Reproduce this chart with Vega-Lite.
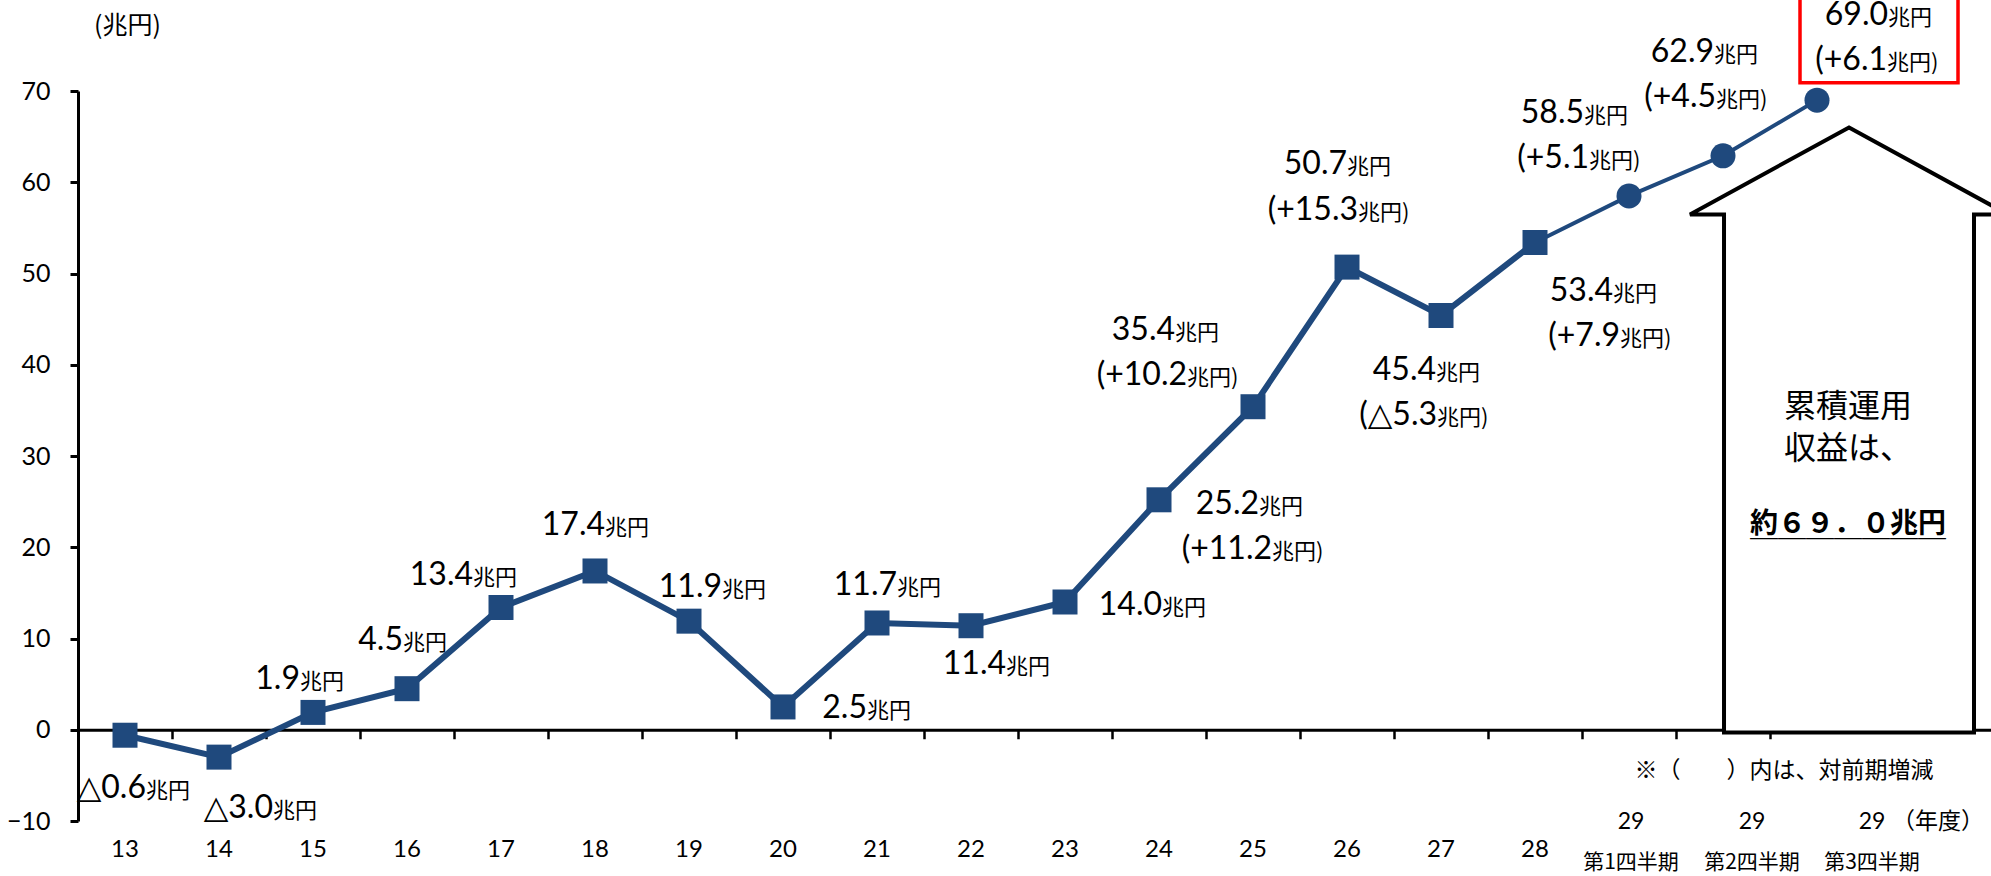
{
  "$schema": "https://vega.github.io/schema/vega-lite/v6.json",
  "width": 1913,
  "height": 730,
  "autosize": "none",
  "padding": {"left": 78, "top": 91, "right": 0, "bottom": 55},
  "background": "white",
  "config": {
    "view": {"stroke": null},
    "axis": {"grid": false, "labelColor": "#000", "titleColor": "#000", "domainColor": "#000", "tickColor": "#000", "labelFont": "Lato", "titleFont": "Noto Sans CJK JP"}
  },
  "data": {"values": [
    {"cat": "13", "v": -0.6, "n1": "△0.6"},
    {"cat": "14", "v": -3.0, "n1": "△3.0"},
    {"cat": "15", "v": 1.9, "n1": "1.9"},
    {"cat": "16", "v": 4.5, "n1": "4.5"},
    {"cat": "17", "v": 13.4, "n1": "13.4"},
    {"cat": "18", "v": 17.4, "n1": "17.4"},
    {"cat": "19", "v": 11.9, "n1": "11.9"},
    {"cat": "20", "v": 2.5, "n1": "2.5"},
    {"cat": "21", "v": 11.7, "n1": "11.7"},
    {"cat": "22", "v": 11.4, "n1": "11.4"},
    {"cat": "23", "v": 14.0, "n1": "14.0"},
    {"cat": "24", "v": 25.2, "n1": "25.2", "n2": "(+11.2"},
    {"cat": "25", "v": 35.4, "n1": "35.4", "n2": "(+10.2"},
    {"cat": "26", "v": 50.7, "n1": "50.7", "n2": "(+15.3"},
    {"cat": "27", "v": 45.4, "n1": "45.4", "n2": "(△5.3"},
    {"cat": "28", "v": 53.4, "n1": "53.4", "n2": "(+7.9"},
    {"cat": "29Q1", "v": 58.5, "n1": "58.5", "n2": "(+5.1", "q": "第1四半期"},
    {"cat": "29Q2", "v": 62.9, "n1": "62.9", "n2": "(+4.5", "q": "第2四半期"},
    {"cat": "29Q3", "v": 69.0, "n1": "69.0", "n2": "(+6.1", "q": "第3四半期"}
  ]},
  "encoding": {
    "x": {
      "field": "cat", "type": "nominal",
      "scale": {"type": "band", "domain": ["13","14","15","16","17","18","19","20","21","22","23","24","25","26","27","28","29Q1","29Q2","29Q3"], "paddingInner": 0, "paddingOuter": 0.6755, "align": 0},
      "axis": {"title": null, "offset": -91.25, "domain": true, "domainWidth": 3, "bandPosition": 0, "tickSize": 9, "tickWidth": 2.5, "labelExpr": "(datum.label == '29Q1' || datum.label == '29Q2' || datum.label == '29Q3') ? '' : datum.label", "labelFontSize": 24, "labelPadding": 111, "labelBaseline": "middle", "labelAngle": 0}
    },
    "y": {
      "field": "v", "type": "quantitative",
      "scale": {"domain": [-10, 70], "nice": false, "zero": false},
      "axis": {"title": "(兆円)", "tickCount": 8, "domainWidth": 3, "tickWidth": 3, "tickSize": 8, "labelFontSize": 25, "labelPadding": 20, "titleAngle": 0, "titleX": 49, "titleY": -66, "titleAlign": "center", "titleBaseline": "middle", "titleFontSize": 25, "titleFontWeight": "normal"}
    }
  },
  "layer": [
    {
      "data": {"values": [{"p": 0}]},
      "mark": {"type": "point", "shape": "M0.1058,-1.9911L0.6314,-1.7035L0.519,-1.7035L0.519,0.0089L-0.3074,0.0089L-0.3074,-1.7035L-0.4198,-1.7035Z", "size": 366025, "filled": true, "fill": "#ffffff", "stroke": "#000000", "strokeWidth": 4, "opacity": 1},
      "encoding": {"x": {"datum": "29Q3", "type": "nominal"}, "y": {"field": "p", "type": "quantitative"}}
    },
    {"transform": [{"filter": "datum.cat < '29'"}], "mark": {"type": "line", "color": "#1f497d", "strokeWidth": 6}, "encoding": {"x": {"field": "cat", "type": "nominal"}, "y": {"field": "v", "type": "quantitative"}}},
    {"transform": [{"filter": "datum.cat >= '28'"}], "mark": {"type": "line", "color": "#1f497d", "strokeWidth": 4}, "encoding": {"x": {"field": "cat", "type": "nominal"}, "y": {"field": "v", "type": "quantitative"}}},
    {"transform": [{"filter": "datum.cat < '29'"}], "mark": {"type": "point", "shape": "square", "size": 625, "filled": true, "color": "#1f497d", "opacity": 1}, "encoding": {"x": {"field": "cat", "type": "nominal"}, "y": {"field": "v", "type": "quantitative"}}},
    {"transform": [{"filter": "datum.cat >= '29'"}], "mark": {"type": "point", "shape": "circle", "size": 625, "filled": true, "color": "#1f497d", "opacity": 1}, "encoding": {"x": {"field": "cat", "type": "nominal"}, "y": {"field": "v", "type": "quantitative"}}},

    {"transform": [{"filter": "datum.cat == '13'"}], "mark": {"type": "text", "font": "Lato, DejaVu Sans", "fontSize": 32, "color": "#000", "align": "right", "baseline": "alphabetic", "dx": 21, "dy": 62.5}, "encoding": {"text": {"field": "n1", "type": "nominal"}}},
    {"transform": [{"filter": "datum.cat == '13'"}], "mark": {"type": "text", "font": "Noto Sans CJK JP", "fontSize": 22, "color": "#000", "align": "left", "baseline": "alphabetic", "dx": 21, "dy": 62.5}, "encoding": {"text": {"value": "兆円"}}},
    {"transform": [{"filter": "datum.cat == '14'"}], "mark": {"type": "text", "font": "Lato, DejaVu Sans", "fontSize": 32, "color": "#000", "align": "right", "baseline": "alphabetic", "dx": 54, "dy": 60.6}, "encoding": {"text": {"field": "n1", "type": "nominal"}}},
    {"transform": [{"filter": "datum.cat == '14'"}], "mark": {"type": "text", "font": "Noto Sans CJK JP", "fontSize": 22, "color": "#000", "align": "left", "baseline": "alphabetic", "dx": 54, "dy": 60.6}, "encoding": {"text": {"value": "兆円"}}},
    {"transform": [{"filter": "datum.cat == '15'"}], "mark": {"type": "text", "font": "Lato, DejaVu Sans", "fontSize": 32, "color": "#000", "align": "right", "baseline": "alphabetic", "dx": -13, "dy": -23}, "encoding": {"text": {"field": "n1", "type": "nominal"}}},
    {"transform": [{"filter": "datum.cat == '15'"}], "mark": {"type": "text", "font": "Noto Sans CJK JP", "fontSize": 22, "color": "#000", "align": "left", "baseline": "alphabetic", "dx": -13, "dy": -23}, "encoding": {"text": {"value": "兆円"}}},
    {"transform": [{"filter": "datum.cat == '16'"}], "mark": {"type": "text", "font": "Lato, DejaVu Sans", "fontSize": 32, "color": "#000", "align": "right", "baseline": "alphabetic", "dx": -4, "dy": -39}, "encoding": {"text": {"field": "n1", "type": "nominal"}}},
    {"transform": [{"filter": "datum.cat == '16'"}], "mark": {"type": "text", "font": "Noto Sans CJK JP", "fontSize": 22, "color": "#000", "align": "left", "baseline": "alphabetic", "dx": -4, "dy": -39}, "encoding": {"text": {"value": "兆円"}}},
    {"transform": [{"filter": "datum.cat == '17'"}], "mark": {"type": "text", "font": "Lato, DejaVu Sans", "fontSize": 32, "color": "#000", "align": "right", "baseline": "alphabetic", "dx": -28, "dy": -22}, "encoding": {"text": {"field": "n1", "type": "nominal"}}},
    {"transform": [{"filter": "datum.cat == '17'"}], "mark": {"type": "text", "font": "Noto Sans CJK JP", "fontSize": 22, "color": "#000", "align": "left", "baseline": "alphabetic", "dx": -28, "dy": -22}, "encoding": {"text": {"value": "兆円"}}},
    {"transform": [{"filter": "datum.cat == '18'"}], "mark": {"type": "text", "font": "Lato, DejaVu Sans", "fontSize": 32, "color": "#000", "align": "right", "baseline": "alphabetic", "dx": 10, "dy": -35.6}, "encoding": {"text": {"field": "n1", "type": "nominal"}}},
    {"transform": [{"filter": "datum.cat == '18'"}], "mark": {"type": "text", "font": "Noto Sans CJK JP", "fontSize": 22, "color": "#000", "align": "left", "baseline": "alphabetic", "dx": 10, "dy": -35.6}, "encoding": {"text": {"value": "兆円"}}},
    {"transform": [{"filter": "datum.cat == '19'"}], "mark": {"type": "text", "font": "Lato, DejaVu Sans", "fontSize": 32, "color": "#000", "align": "right", "baseline": "alphabetic", "dx": 33, "dy": -23.7}, "encoding": {"text": {"field": "n1", "type": "nominal"}}},
    {"transform": [{"filter": "datum.cat == '19'"}], "mark": {"type": "text", "font": "Noto Sans CJK JP", "fontSize": 22, "color": "#000", "align": "left", "baseline": "alphabetic", "dx": 33, "dy": -23.7}, "encoding": {"text": {"value": "兆円"}}},
    {"transform": [{"filter": "datum.cat == '20'"}], "mark": {"type": "text", "font": "Lato, DejaVu Sans", "fontSize": 32, "color": "#000", "align": "right", "baseline": "alphabetic", "dx": 84, "dy": 11}, "encoding": {"text": {"field": "n1", "type": "nominal"}}},
    {"transform": [{"filter": "datum.cat == '20'"}], "mark": {"type": "text", "font": "Noto Sans CJK JP", "fontSize": 22, "color": "#000", "align": "left", "baseline": "alphabetic", "dx": 84, "dy": 11}, "encoding": {"text": {"value": "兆円"}}},
    {"transform": [{"filter": "datum.cat == '21'"}], "mark": {"type": "text", "font": "Lato, DejaVu Sans", "fontSize": 32, "color": "#000", "align": "right", "baseline": "alphabetic", "dx": 20, "dy": -28}, "encoding": {"text": {"field": "n1", "type": "nominal"}}},
    {"transform": [{"filter": "datum.cat == '21'"}], "mark": {"type": "text", "font": "Noto Sans CJK JP", "fontSize": 22, "color": "#000", "align": "left", "baseline": "alphabetic", "dx": 20, "dy": -28}, "encoding": {"text": {"value": "兆円"}}},
    {"transform": [{"filter": "datum.cat == '22'"}], "mark": {"type": "text", "font": "Lato, DejaVu Sans", "fontSize": 32, "color": "#000", "align": "right", "baseline": "alphabetic", "dx": 35, "dy": 48}, "encoding": {"text": {"field": "n1", "type": "nominal"}}},
    {"transform": [{"filter": "datum.cat == '22'"}], "mark": {"type": "text", "font": "Noto Sans CJK JP", "fontSize": 22, "color": "#000", "align": "left", "baseline": "alphabetic", "dx": 35, "dy": 48}, "encoding": {"text": {"value": "兆円"}}},
    {"transform": [{"filter": "datum.cat == '23'"}], "mark": {"type": "text", "font": "Lato, DejaVu Sans", "fontSize": 32, "color": "#000", "align": "right", "baseline": "alphabetic", "dx": 97, "dy": 13}, "encoding": {"text": {"field": "n1", "type": "nominal"}}},
    {"transform": [{"filter": "datum.cat == '23'"}], "mark": {"type": "text", "font": "Noto Sans CJK JP", "fontSize": 22, "color": "#000", "align": "left", "baseline": "alphabetic", "dx": 97, "dy": 13}, "encoding": {"text": {"value": "兆円"}}},

    {"transform": [{"filter": "datum.cat == '24'"}], "mark": {"type": "text", "font": "Lato, DejaVu Sans", "fontSize": 32, "color": "#000", "align": "right", "baseline": "alphabetic", "dx": 100, "dy": 14}, "encoding": {"text": {"field": "n1", "type": "nominal"}}},
    {"transform": [{"filter": "datum.cat == '24'"}], "mark": {"type": "text", "font": "Noto Sans CJK JP", "fontSize": 22, "color": "#000", "align": "left", "baseline": "alphabetic", "dx": 100, "dy": 14}, "encoding": {"text": {"value": "兆円"}}},
    {"transform": [{"filter": "datum.cat == '24'"}], "mark": {"type": "text", "font": "Lato, DejaVu Sans", "fontSize": 32, "color": "#000", "align": "right", "baseline": "alphabetic", "dx": 113, "dy": 59.5}, "encoding": {"text": {"field": "n2", "type": "nominal"}}},
    {"transform": [{"filter": "datum.cat == '24'"}], "mark": {"type": "text", "font": "Noto Sans CJK JP", "fontSize": 22, "color": "#000", "align": "left", "baseline": "alphabetic", "dx": 113, "dy": 59.5}, "encoding": {"text": {"value": "兆円)"}}},
    {"transform": [{"filter": "datum.cat == '25'"}], "mark": {"type": "text", "font": "Lato, DejaVu Sans", "fontSize": 32, "color": "#000", "align": "right", "baseline": "alphabetic", "dx": -78, "dy": -67}, "encoding": {"text": {"field": "n1", "type": "nominal"}}},
    {"transform": [{"filter": "datum.cat == '25'"}], "mark": {"type": "text", "font": "Noto Sans CJK JP", "fontSize": 22, "color": "#000", "align": "left", "baseline": "alphabetic", "dx": -78, "dy": -67}, "encoding": {"text": {"value": "兆円"}}},
    {"transform": [{"filter": "datum.cat == '25'"}], "mark": {"type": "text", "font": "Lato, DejaVu Sans", "fontSize": 32, "color": "#000", "align": "right", "baseline": "alphabetic", "dx": -66, "dy": -21.5}, "encoding": {"text": {"field": "n2", "type": "nominal"}}},
    {"transform": [{"filter": "datum.cat == '25'"}], "mark": {"type": "text", "font": "Noto Sans CJK JP", "fontSize": 22, "color": "#000", "align": "left", "baseline": "alphabetic", "dx": -66, "dy": -21.5}, "encoding": {"text": {"value": "兆円)"}}},
    {"transform": [{"filter": "datum.cat == '26'"}], "mark": {"type": "text", "font": "Lato, DejaVu Sans", "fontSize": 32, "color": "#000", "align": "right", "baseline": "alphabetic", "dx": 0, "dy": -93}, "encoding": {"text": {"field": "n1", "type": "nominal"}}},
    {"transform": [{"filter": "datum.cat == '26'"}], "mark": {"type": "text", "font": "Noto Sans CJK JP", "fontSize": 22, "color": "#000", "align": "left", "baseline": "alphabetic", "dx": 0, "dy": -93}, "encoding": {"text": {"value": "兆円"}}},
    {"transform": [{"filter": "datum.cat == '26'"}], "mark": {"type": "text", "font": "Lato, DejaVu Sans", "fontSize": 32, "color": "#000", "align": "right", "baseline": "alphabetic", "dx": 11, "dy": -47.5}, "encoding": {"text": {"field": "n2", "type": "nominal"}}},
    {"transform": [{"filter": "datum.cat == '26'"}], "mark": {"type": "text", "font": "Noto Sans CJK JP", "fontSize": 22, "color": "#000", "align": "left", "baseline": "alphabetic", "dx": 11, "dy": -47.5}, "encoding": {"text": {"value": "兆円)"}}},
    {"transform": [{"filter": "datum.cat == '27'"}], "mark": {"type": "text", "font": "Lato, DejaVu Sans", "fontSize": 32, "color": "#000", "align": "right", "baseline": "alphabetic", "dx": -5, "dy": 64.5}, "encoding": {"text": {"field": "n1", "type": "nominal"}}},
    {"transform": [{"filter": "datum.cat == '27'"}], "mark": {"type": "text", "font": "Noto Sans CJK JP", "fontSize": 22, "color": "#000", "align": "left", "baseline": "alphabetic", "dx": -5, "dy": 64.5}, "encoding": {"text": {"value": "兆円"}}},
    {"transform": [{"filter": "datum.cat == '27'"}], "mark": {"type": "text", "font": "Lato, DejaVu Sans", "fontSize": 32, "color": "#000", "align": "right", "baseline": "alphabetic", "dx": -4, "dy": 110}, "encoding": {"text": {"field": "n2", "type": "nominal"}}},
    {"transform": [{"filter": "datum.cat == '27'"}], "mark": {"type": "text", "font": "Noto Sans CJK JP", "fontSize": 22, "color": "#000", "align": "left", "baseline": "alphabetic", "dx": -4, "dy": 110}, "encoding": {"text": {"value": "兆円)"}}},
    {"transform": [{"filter": "datum.cat == '28'"}], "mark": {"type": "text", "font": "Lato, DejaVu Sans", "fontSize": 32, "color": "#000", "align": "right", "baseline": "alphabetic", "dx": 78, "dy": 58.5}, "encoding": {"text": {"field": "n1", "type": "nominal"}}},
    {"transform": [{"filter": "datum.cat == '28'"}], "mark": {"type": "text", "font": "Noto Sans CJK JP", "fontSize": 22, "color": "#000", "align": "left", "baseline": "alphabetic", "dx": 78, "dy": 58.5}, "encoding": {"text": {"value": "兆円"}}},
    {"transform": [{"filter": "datum.cat == '28'"}], "mark": {"type": "text", "font": "Lato, DejaVu Sans", "fontSize": 32, "color": "#000", "align": "right", "baseline": "alphabetic", "dx": 85, "dy": 104}, "encoding": {"text": {"field": "n2", "type": "nominal"}}},
    {"transform": [{"filter": "datum.cat == '28'"}], "mark": {"type": "text", "font": "Noto Sans CJK JP", "fontSize": 22, "color": "#000", "align": "left", "baseline": "alphabetic", "dx": 85, "dy": 104}, "encoding": {"text": {"value": "兆円)"}}},
    {"transform": [{"filter": "datum.cat == '29Q1'"}], "mark": {"type": "text", "font": "Lato, DejaVu Sans", "fontSize": 32, "color": "#000", "align": "right", "baseline": "alphabetic", "dx": -45, "dy": -73}, "encoding": {"text": {"field": "n1", "type": "nominal"}}},
    {"transform": [{"filter": "datum.cat == '29Q1'"}], "mark": {"type": "text", "font": "Noto Sans CJK JP", "fontSize": 22, "color": "#000", "align": "left", "baseline": "alphabetic", "dx": -45, "dy": -73}, "encoding": {"text": {"value": "兆円"}}},
    {"transform": [{"filter": "datum.cat == '29Q1'"}], "mark": {"type": "text", "font": "Lato, DejaVu Sans", "fontSize": 32, "color": "#000", "align": "right", "baseline": "alphabetic", "dx": -40, "dy": -27.5}, "encoding": {"text": {"field": "n2", "type": "nominal"}}},
    {"transform": [{"filter": "datum.cat == '29Q1'"}], "mark": {"type": "text", "font": "Noto Sans CJK JP", "fontSize": 22, "color": "#000", "align": "left", "baseline": "alphabetic", "dx": -40, "dy": -27.5}, "encoding": {"text": {"value": "兆円)"}}},
    {"transform": [{"filter": "datum.cat == '29Q2'"}], "mark": {"type": "text", "font": "Lato, DejaVu Sans", "fontSize": 32, "color": "#000", "align": "right", "baseline": "alphabetic", "dx": -9, "dy": -94}, "encoding": {"text": {"field": "n1", "type": "nominal"}}},
    {"transform": [{"filter": "datum.cat == '29Q2'"}], "mark": {"type": "text", "font": "Noto Sans CJK JP", "fontSize": 22, "color": "#000", "align": "left", "baseline": "alphabetic", "dx": -9, "dy": -94}, "encoding": {"text": {"value": "兆円"}}},
    {"transform": [{"filter": "datum.cat == '29Q2'"}], "mark": {"type": "text", "font": "Lato, DejaVu Sans", "fontSize": 32, "color": "#000", "align": "right", "baseline": "alphabetic", "dx": -7, "dy": -48.5}, "encoding": {"text": {"field": "n2", "type": "nominal"}}},
    {"transform": [{"filter": "datum.cat == '29Q2'"}], "mark": {"type": "text", "font": "Noto Sans CJK JP", "fontSize": 22, "color": "#000", "align": "left", "baseline": "alphabetic", "dx": -7, "dy": -48.5}, "encoding": {"text": {"value": "兆円)"}}},
    {"transform": [{"filter": "datum.cat == '29Q3'"}], "mark": {"type": "text", "font": "Lato, DejaVu Sans", "fontSize": 32, "color": "#000", "align": "right", "baseline": "alphabetic", "dx": 71, "dy": -75}, "encoding": {"text": {"field": "n1", "type": "nominal"}}},
    {"transform": [{"filter": "datum.cat == '29Q3'"}], "mark": {"type": "text", "font": "Noto Sans CJK JP", "fontSize": 22, "color": "#000", "align": "left", "baseline": "alphabetic", "dx": 71, "dy": -75}, "encoding": {"text": {"value": "兆円"}}},
    {"transform": [{"filter": "datum.cat == '29Q3'"}], "mark": {"type": "text", "font": "Lato, DejaVu Sans", "fontSize": 32, "color": "#000", "align": "right", "baseline": "alphabetic", "dx": 70, "dy": -30}, "encoding": {"text": {"field": "n2", "type": "nominal"}}},
    {"transform": [{"filter": "datum.cat == '29Q3'"}], "mark": {"type": "text", "font": "Noto Sans CJK JP", "fontSize": 22, "color": "#000", "align": "left", "baseline": "alphabetic", "dx": 70, "dy": -30}, "encoding": {"text": {"value": "兆円)"}}},

    {"transform": [{"filter": "datum.cat == '29Q1'"}], "mark": {"type": "text", "font": "Lato", "fontSize": 23, "color": "#000", "align": "center", "baseline": "alphabetic", "dx": 2, "dy": 8.4}, "encoding": {"y": {"datum": -10, "type": "quantitative"}, "text": {"value": "29"}}},
    {"transform": [{"filter": "datum.cat == '29Q2'"}], "mark": {"type": "text", "font": "Lato", "fontSize": 23, "color": "#000", "align": "center", "baseline": "alphabetic", "dx": 29, "dy": 8.4}, "encoding": {"y": {"datum": -10, "type": "quantitative"}, "text": {"value": "29"}}},
    {"transform": [{"filter": "datum.cat == '29Q3'"}], "mark": {"type": "text", "font": "Lato", "fontSize": 23, "color": "#000", "align": "center", "baseline": "alphabetic", "dx": 55, "dy": 8.4}, "encoding": {"y": {"datum": -10, "type": "quantitative"}, "text": {"value": "29"}}},
    {"transform": [{"filter": "datum.cat == '29Q1'"}], "mark": {"type": "text", "font": "Noto Sans CJK JP", "fontSize": 21, "color": "#000", "align": "center", "baseline": "alphabetic", "dx": 2, "dy": 48.4}, "encoding": {"y": {"datum": -10, "type": "quantitative"}, "text": {"field": "q", "type": "nominal"}}},
    {"transform": [{"filter": "datum.cat == '29Q2'"}], "mark": {"type": "text", "font": "Noto Sans CJK JP", "fontSize": 21, "color": "#000", "align": "center", "baseline": "alphabetic", "dx": 29, "dy": 48.4}, "encoding": {"y": {"datum": -10, "type": "quantitative"}, "text": {"field": "q", "type": "nominal"}}},
    {"transform": [{"filter": "datum.cat == '29Q3'"}], "mark": {"type": "text", "font": "Noto Sans CJK JP", "fontSize": 21, "color": "#000", "align": "center", "baseline": "alphabetic", "dx": 55, "dy": 48.4}, "encoding": {"y": {"datum": -10, "type": "quantitative"}, "text": {"field": "q", "type": "nominal"}}},

    {
      "data": {"values": [{"t": "累積運用", "p": 35.4}, {"t": "収益は、", "p": 30.82}]},
      "mark": {"type": "text", "font": "Noto Sans CJK JP", "fontSize": 32, "color": "#000", "align": "center", "baseline": "middle", "dx": 31},
      "encoding": {"x": {"datum": "29Q3", "type": "nominal"}, "y": {"field": "p", "type": "quantitative"}, "text": {"field": "t", "type": "nominal"}}
    },
    {
      "data": {"values": [{"t": "約６９．０兆円", "p": 22.49}]},
      "mark": {"type": "text", "font": "Noto Sans CJK JP", "fontSize": 28, "fontWeight": "bold", "color": "#000", "align": "center", "baseline": "middle", "dx": 31},
      "encoding": {"x": {"datum": "29Q3", "type": "nominal"}, "y": {"field": "p", "type": "quantitative"}, "text": {"field": "t", "type": "nominal"}}
    },
    {
      "data": {"values": [{"t": "＿＿＿＿＿＿＿", "p": 22.49}]},
      "mark": {"type": "text", "font": "Noto Sans CJK JP", "fontSize": 28, "fontWeight": "bold", "color": "#000", "align": "center", "baseline": "middle", "dx": 31, "dy": 3},
      "encoding": {"x": {"datum": "29Q3", "type": "nominal"}, "y": {"field": "p", "type": "quantitative"}, "text": {"field": "t", "type": "nominal"}}
    },
    {
      "data": {"values": [{"p": 69}]},
      "mark": {"type": "point", "shape": "M-0.17,-1.054L1.41,-1.054L1.41,-0.174L-0.17,-0.174Z", "size": 40000, "filled": false, "stroke": "#ff0000", "strokeWidth": 3.5, "opacity": 1},
      "encoding": {"x": {"datum": "29Q3", "type": "nominal"}, "y": {"field": "p", "type": "quantitative"}}
    },
    {
      "data": {"values": [{"t": "（年度）", "p": -10}]},
      "mark": {"type": "text", "font": "Noto Sans CJK JP", "fontSize": 23, "color": "#000", "align": "center", "baseline": "alphabetic", "dx": 121, "dy": 8.4},
      "encoding": {"x": {"datum": "29Q3", "type": "nominal"}, "y": {"field": "p", "type": "quantitative"}, "text": {"field": "t", "type": "nominal"}}
    },
    {
      "data": {"values": [{"t": "※（　　）内は、対前期増減", "p": -10}]},
      "mark": {"type": "text", "font": "Noto Sans CJK JP", "fontSize": 23, "color": "#000", "align": "center", "baseline": "alphabetic", "dx": 61, "dy": -42.6},
      "encoding": {"x": {"datum": "29Q2", "type": "nominal"}, "y": {"field": "p", "type": "quantitative"}, "text": {"field": "t", "type": "nominal"}}
    }
  ]
}
